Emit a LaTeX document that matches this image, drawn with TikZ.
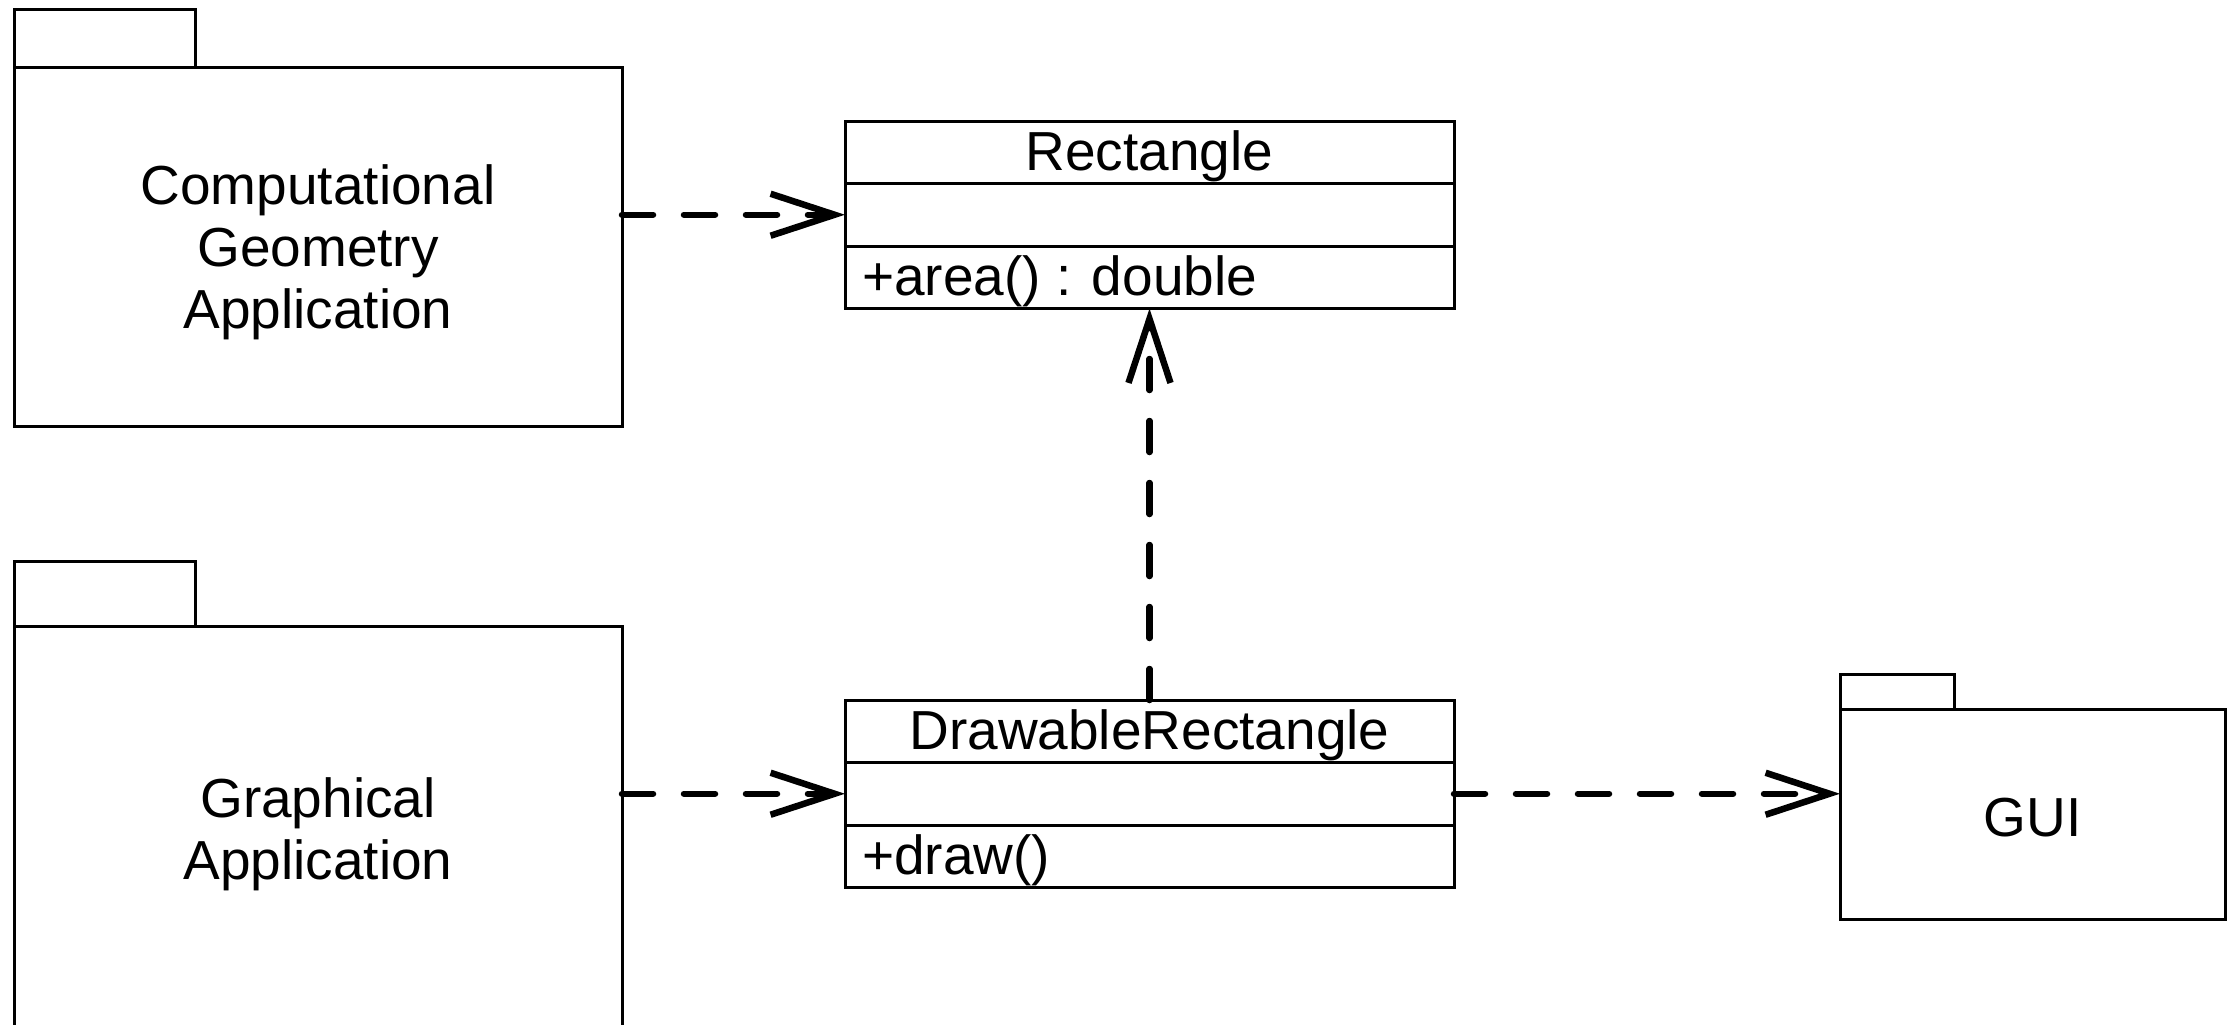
\documentclass[tikz,border=0pt]{standalone}
\usepackage{fontspec}
\setmainfont{Liberation Sans}
\usetikzlibrary{arrows.meta}
\begin{document}
\begin{tikzpicture}[x=1pt,y=-1pt,
  box/.style={draw=black, line width=3pt, fill=white, inner sep=0pt, outer sep=0pt},
  txt/.style={font=\fontsize{55}{62}\selectfont, inner sep=0pt, align=center},
  pkgtab/.style={box, anchor=south west},
  part/.style={box, minimum width=609pt, minimum height=62.5pt},
  member/.style={txt, anchor=west},
  dep/.style={line width=6.5pt, dash pattern=on 31pt off 31pt, line cap=round,
    -{Straight Barb[length=64pt,width=42pt,line width=6.5pt,sharp]}},
]
\useasboundingbox (0,0) rectangle (2228,1025);
\clip (0,0) rectangle (2228,1025);

% packages
\node[box, minimum width=608pt, minimum height=358pt] (cga) at (318,247) {};
\node[pkgtab, minimum width=181pt, minimum height=58pt] (cgatab) at (cga.north west) {};
\node[txt, yshift=-5pt] (cgatext) at (cga.center) {Computational\\Geometry\\Application};

\node[box, minimum width=608pt, minimum height=406pt] (ga) at (318,829) {};
\node[pkgtab, minimum width=181pt, minimum height=65pt] (gatab) at (ga.north west) {};
\node[txt, yshift=-5pt] (gatext) at (ga.center) {Graphical\\Application};

\node[box, minimum width=385pt, minimum height=210pt] (gui) at (2032.5,814) {};
\node[pkgtab, minimum width=114pt, minimum height=35pt] (guitab) at (gui.north west) {};
\node[txt, yshift=-4pt] (guitext) at (gui.center) {GUI};

% class Rectangle
\node[part] (rectT) at (1149.5,152.25) {};
\node[part, anchor=north] (rectA) at (rectT.south) {};
\node[part, anchor=north] (rectO) at (rectA.south) {};
\node[txt, yshift=-4pt] (rectName) at (rectT.center) {Rectangle};
\node[member, yshift=-4pt] (rectOp) at ([xshift=17pt]rectO.west) {+area() : double};

% class DrawableRectangle
\node[part] (drT) at (1149.5,731.25) {};
\node[part, anchor=north] (drA) at (drT.south) {};
\node[part, anchor=north] (drO) at (drA.south) {};
\node[txt, yshift=-4pt] (drName) at (drT.center) {DrawableRectangle};
\node[member, yshift=-4pt] (drOp) at ([xshift=17pt]drO.west) {+draw()};

% dependencies
\draw[dep] (cga.east |- rectA.west) -- (rectA.west);
\draw[dep] (ga.east |- drA.west) -- (drA.west);
\draw[dep] (drA.east) -- (drA.east -| gui.west);
\draw[dep] (drT.north) -- (rectO.south);
\end{tikzpicture}
\end{document}
